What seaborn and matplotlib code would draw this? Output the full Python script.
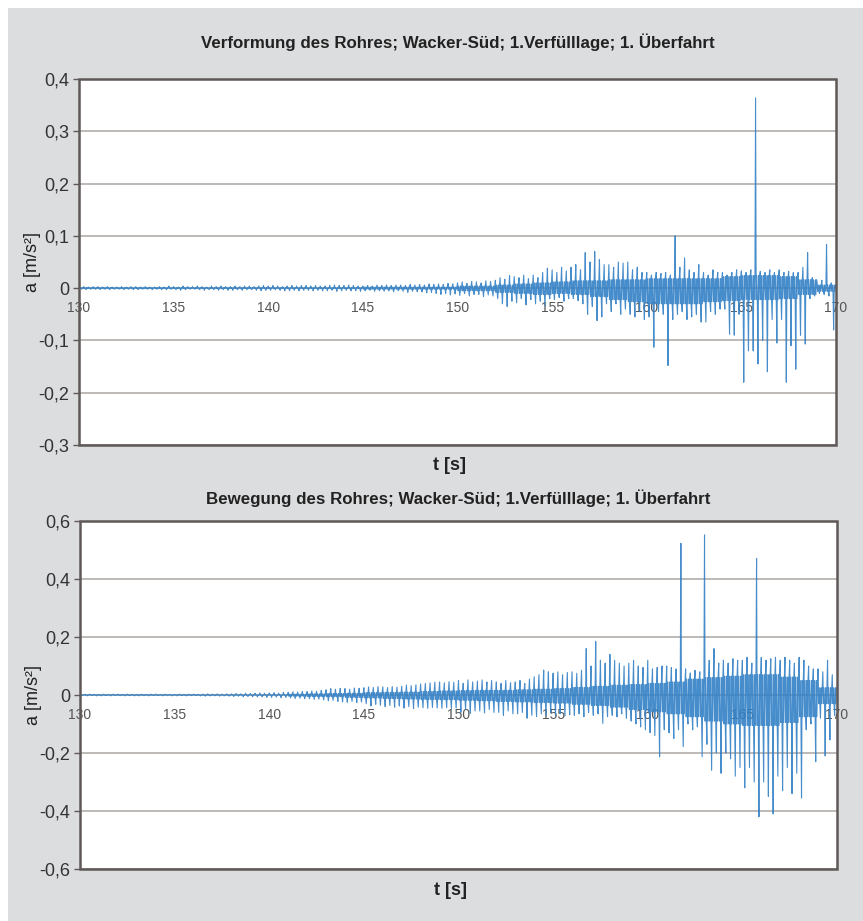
import numpy as np
import pandas as pd
import matplotlib
matplotlib.use("Agg")
import matplotlib.pyplot as plt
import matplotlib.ticker as mticker
from matplotlib.patches import Rectangle
import seaborn as sns

# sampled envelope, 4 samples per second; between the hi and lo peaks the
# signal swings inside its dense core (core_lo .. core_hi)
sample_step = 0.25
t_first = 130.0

# top chart: Verformung (deformation), m/s^2, one row per second 130..169
top_hi = [
    [0.002, 0.003, 0.002, 0.003], [0.003, 0.002, 0.003, 0.002], [0.002, 0.003, 0.002, 0.003],
    [0.003, 0.002, 0.003, 0.002], [0.002, 0.003, 0.002, 0.004], [0.003, 0.002, 0.004, 0.003],
    [0.003, 0.004, 0.003, 0.002], [0.004, 0.003, 0.004, 0.003], [0.003, 0.004, 0.003, 0.004],
    [0.004, 0.003, 0.004, 0.005], [0.004, 0.005, 0.004, 0.003], [0.004, 0.005, 0.004, 0.005],
    [0.005, 0.004, 0.005, 0.004], [0.004, 0.005, 0.006, 0.005], [0.005, 0.006, 0.005, 0.004],
    [0.004, 0.005, 0.004, 0.006], [0.005, 0.006, 0.005, 0.006], [0.006, 0.005, 0.007, 0.006],
    [0.007, 0.006, 0.008, 0.007], [0.008, 0.007, 0.009, 0.008], [0.010, 0.012, 0.009, 0.013],
    [0.012, 0.010, 0.014, 0.013], [0.015, 0.020, 0.017, 0.024], [0.022, 0.020, 0.025, 0.018],
    [0.025, 0.020, 0.030, 0.038], [0.035, 0.030, 0.040, 0.033], [0.040, 0.045, 0.035, 0.068],
    [0.050, 0.070, 0.055, 0.045], [0.045, 0.040, 0.050, 0.048], [0.050, 0.035, 0.040, 0.030],
    [0.030, 0.025, 0.030, 0.028], [0.030, 0.025, 0.100, 0.040], [0.058, 0.035, 0.030, 0.045],
    [0.030, 0.025, 0.035, 0.030], [0.030, 0.025, 0.030, 0.035], [0.033, 0.030, 0.035, 0.364],
    [0.032, 0.030, 0.035, 0.030], [0.035, 0.030, 0.032, 0.030], [0.030, 0.040, 0.068, 0.020],
    [0.012, 0.015, 0.084, 0.010],
]
top_lo = [
    [-0.002, -0.003, -0.002, -0.002], [-0.003, -0.002, -0.003, -0.002], [-0.002, -0.003, -0.002, -0.003],
    [-0.003, -0.002, -0.002, -0.003], [-0.002, -0.003, -0.003, -0.002], [-0.003, -0.004, -0.003, -0.002],
    [-0.002, -0.003, -0.004, -0.003], [-0.003, -0.004, -0.003, -0.004], [-0.004, -0.003, -0.004, -0.003],
    [-0.003, -0.004, -0.005, -0.004], [-0.004, -0.003, -0.004, -0.005], [-0.005, -0.004, -0.005, -0.004],
    [-0.004, -0.005, -0.004, -0.005], [-0.005, -0.004, -0.006, -0.005], [-0.004, -0.005, -0.005, -0.006],
    [-0.005, -0.004, -0.006, -0.005], [-0.006, -0.005, -0.007, -0.005], [-0.006, -0.008, -0.006, -0.007],
    [-0.007, -0.009, -0.008, -0.010], [-0.012, -0.010, -0.013, -0.011], [-0.014, -0.010, -0.015, -0.012],
    [-0.012, -0.016, -0.013, -0.015], [-0.020, -0.030, -0.035, -0.025], [-0.028, -0.020, -0.032, -0.022],
    [-0.030, -0.025, -0.034, -0.020], [-0.022, -0.018, -0.025, -0.020], [-0.020, -0.024, -0.030, -0.050],
    [-0.035, -0.062, -0.055, -0.030], [-0.045, -0.030, -0.050, -0.040], [-0.050, -0.055, -0.045, -0.060],
    [-0.055, -0.113, -0.045, -0.050], [-0.148, -0.060, -0.050, -0.045], [-0.060, -0.055, -0.050, -0.065],
    [-0.065, -0.045, -0.050, -0.040], [-0.040, -0.088, -0.090, -0.050], [-0.180, -0.120, -0.120, -0.145],
    [-0.100, -0.160, -0.060, -0.105], [-0.060, -0.180, -0.110, -0.155], [-0.090, -0.107, -0.020, -0.015],
    [-0.010, -0.012, -0.015, -0.080],
]
# dense core of the top signal, one value per second 130..169
top_core_hi = [0.001] * 15 + [0.002] * 5 + [0.004, 0.004, 0.006, 0.008, 0.010,
                                             0.012, 0.014, 0.014, 0.016, 0.016,
                                             0.018, 0.018, 0.018, 0.018, 0.022,
                                             0.024, 0.024, 0.022, 0.016, 0.006]
top_core_lo = [-0.001] * 15 + [-0.002] * 5 + [-0.005, -0.005, -0.008, -0.010, -0.012,
                                               -0.010, -0.012, -0.016, -0.022, -0.026,
                                               -0.030, -0.030, -0.030, -0.026, -0.024,
                                               -0.022, -0.022, -0.020, -0.012, -0.006]

# bottom chart: Bewegung (movement), m/s^2
bot_hi = [
    [0.003, 0.002, 0.003, 0.002], [0.002, 0.003, 0.002, 0.003], [0.003, 0.002, 0.003, 0.002],
    [0.002, 0.003, 0.002, 0.003], [0.003, 0.002, 0.003, 0.002], [0.002, 0.003, 0.002, 0.003],
    [0.003, 0.002, 0.003, 0.004], [0.003, 0.004, 0.003, 0.004], [0.004, 0.005, 0.004, 0.006],
    [0.005, 0.006, 0.007, 0.006], [0.007, 0.008, 0.006, 0.009], [0.009, 0.011, 0.010, 0.012],
    [0.012, 0.014, 0.013, 0.016], [0.018, 0.022, 0.020, 0.023], [0.022, 0.020, 0.024, 0.023],
    [0.025, 0.028, 0.026, 0.029], [0.028, 0.025, 0.029, 0.027], [0.030, 0.034, 0.032, 0.035],
    [0.038, 0.040, 0.042, 0.044], [0.045, 0.042, 0.046, 0.044], [0.050, 0.040, 0.052, 0.045],
    [0.048, 0.052, 0.045, 0.050], [0.045, 0.040, 0.050, 0.042], [0.045, 0.050, 0.040, 0.055],
    [0.063, 0.070, 0.086, 0.080], [0.075, 0.080, 0.070, 0.078], [0.080, 0.075, 0.085, 0.160],
    [0.100, 0.184, 0.120, 0.110], [0.140, 0.120, 0.110, 0.100], [0.110, 0.120, 0.100, 0.095],
    [0.120, 0.090, 0.095, 0.100], [0.100, 0.095, 0.090, 0.523], [0.090, 0.076, 0.085, 0.080],
    [0.552, 0.120, 0.160, 0.110], [0.120, 0.110, 0.125, 0.120], [0.120, 0.130, 0.110, 0.470],
    [0.130, 0.120, 0.125, 0.130], [0.120, 0.130, 0.120, 0.110], [0.130, 0.120, 0.100, 0.090],
    [0.090, 0.080, 0.120, 0.070],
]
bot_lo = [
    [-0.002, -0.003, -0.002, -0.003], [-0.003, -0.002, -0.003, -0.002], [-0.002, -0.003, -0.002, -0.003],
    [-0.003, -0.002, -0.003, -0.002], [-0.002, -0.003, -0.002, -0.003], [-0.003, -0.002, -0.003, -0.002],
    [-0.002, -0.003, -0.004, -0.003], [-0.003, -0.004, -0.003, -0.004], [-0.005, -0.004, -0.006, -0.005],
    [-0.006, -0.007, -0.006, -0.008], [-0.008, -0.007, -0.009, -0.008], [-0.010, -0.012, -0.011, -0.013],
    [-0.013, -0.015, -0.014, -0.017], [-0.020, -0.018, -0.022, -0.024], [-0.025, -0.022, -0.026, -0.024],
    [-0.030, -0.038, -0.032, -0.035], [-0.040, -0.036, -0.042, -0.038], [-0.045, -0.040, -0.046, -0.042],
    [-0.044, -0.046, -0.043, -0.045], [-0.046, -0.044, -0.047, -0.045], [-0.060, -0.050, -0.063, -0.055],
    [-0.055, -0.062, -0.050, -0.060], [-0.060, -0.070, -0.055, -0.065], [-0.065, -0.060, -0.080, -0.070],
    [-0.075, -0.065, -0.070, -0.060], [-0.070, -0.065, -0.072, -0.068], [-0.070, -0.065, -0.075, -0.060],
    [-0.070, -0.065, -0.098, -0.075], [-0.070, -0.075, -0.065, -0.080], [-0.090, -0.100, -0.110, -0.120],
    [-0.130, -0.140, -0.213, -0.120], [-0.130, -0.150, -0.120, -0.178], [-0.100, -0.120, -0.110, -0.213],
    [-0.170, -0.260, -0.200, -0.270], [-0.200, -0.220, -0.280, -0.250], [-0.320, -0.250, -0.300, -0.420],
    [-0.300, -0.350, -0.410, -0.280], [-0.330, -0.250, -0.340, -0.270], [-0.355, -0.120, -0.100, -0.230],
    [-0.080, -0.210, -0.155, -0.070],
]
bot_core_hi = [0.001] * 11 + [0.003, 0.004, 0.005, 0.006, 0.008, 0.009, 0.010, 0.012, 0.014,
                              0.015, 0.016, 0.016, 0.018, 0.020, 0.022, 0.026, 0.030, 0.034,
                              0.036, 0.040, 0.045, 0.055, 0.060, 0.065, 0.070, 0.070, 0.062,
                              0.050, 0.025]
bot_core_lo = [-0.001] * 11 + [-0.004, -0.005, -0.006, -0.008, -0.010, -0.012, -0.014, -0.015,
                               -0.016, -0.018, -0.020, -0.022, -0.024, -0.026, -0.028, -0.032,
                               -0.036, -0.042, -0.050, -0.058, -0.065, -0.075, -0.090, -0.100,
                               -0.105, -0.105, -0.095, -0.075, -0.030]

top_title = "Verformung des Rohres; Wacker-Süd; 1.Verfülllage; 1. Überfahrt"
bot_title = "Bewegung des Rohres; Wacker-Süd; 1.Verfülllage; 1. Überfahrt"
x_ticks = [130, 135, 140, 145, 150, 155, 160, 165, 170]
top_yticks = [-0.3, -0.2, -0.1, 0, 0.1, 0.2, 0.3, 0.4]
bot_yticks = [-0.6, -0.4, -0.2, 0, 0.2, 0.4, 0.6]


def to_series(hi, lo, core_hi, core_lo):
    hi = np.ravel(hi)
    lo = np.ravel(lo)
    c_hi = np.repeat(core_hi, 4)
    c_lo = np.repeat(core_lo, 4)
    t = t_first + sample_step * np.arange(len(hi))
    q = sample_step / 8
    tt = np.column_stack([t + k * q for k in range(8)]).ravel()
    aa = np.column_stack([hi, c_lo, c_hi, c_lo, lo, c_hi, c_lo, c_hi]).ravel()
    return pd.DataFrame({"t": tt, "a": aa})


sns.set_theme(style="white")
plt.rcParams["font.family"] = ["Liberation Sans", "DejaVu Sans"]

BG = "#dcdddf"
FRAME = "#5e5856"
GRID = "#aaa5a3"
LINE = "#3381c6"

fig = plt.figure(figsize=(8.63, 9.21), dpi=100, facecolor="white")
fig.patches.append(Rectangle((8 / 863, 0), 1, 1 - 8 / 921, transform=fig.transFigure,
                             facecolor=BG, edgecolor="none", zorder=-10))


def comma_fmt(v, _):
    if abs(v) < 1e-9:
        return "0"
    return f"{v:.1f}".replace(".", ",")


def style_axes(ax, yticks, title, title_pad, xlabel_y):
    ax.set_facecolor("white")
    ax.set_xlim(130, 170)
    ax.set_ylim(yticks[0], yticks[-1])
    ax.set_xticks(x_ticks)
    ax.set_yticks(yticks)
    ax.yaxis.set_major_formatter(mticker.FuncFormatter(comma_fmt))
    ax.grid(axis="y", color=GRID, linewidth=1.1)
    ax.grid(axis="x", visible=False)
    ax.set_axisbelow(True)
    for side in ["top", "right", "left"]:
        ax.spines[side].set_visible(False)
    # x tick labels sit on the zero line like in the original
    ax.spines["bottom"].set_position(("data", 0))
    ax.spines["bottom"].set_visible(False)
    ax.tick_params(axis="x", length=0, pad=9, labelsize=10, labelcolor="#555555")
    ax.tick_params(axis="y", left=True, length=4, width=1, color=FRAME, pad=3,
                   labelsize=13, labelcolor="#333333")
    ax.add_patch(Rectangle((0, 0), 1, 1, transform=ax.transAxes, fill=False,
                           edgecolor=FRAME, linewidth=1.8, clip_on=False, zorder=5))
    ax.set_title(title, fontsize=12.2, fontweight="bold", color="#222222", pad=title_pad)
    ax.set_xlabel("t [s]", fontsize=13, fontweight="bold", color="#222222")
    ax.xaxis.set_label_coords(0.49, xlabel_y)
    ax.set_ylabel("a [m/s²]", fontsize=13, color="#222222")
    ax.yaxis.set_label_coords(-0.050, 0.5)


ax1 = fig.add_axes([79 / 863, 1 - 445 / 921, 757 / 863, 366 / 921])
ax2 = fig.add_axes([80 / 863, 1 - 869 / 921, 757 / 863, 348 / 921])

sns.lineplot(data=to_series(top_hi, top_lo, top_core_hi, top_core_lo), x="t", y="a",
             ax=ax1, estimator=None, color=LINE, linewidth=0.8, alpha=0.9)
sns.lineplot(data=to_series(bot_hi, bot_lo, bot_core_hi, bot_core_lo), x="t", y="a",
             ax=ax2, estimator=None, color=LINE, linewidth=0.8, alpha=0.9)

style_axes(ax1, top_yticks, top_title, 22.5, -0.032)
style_axes(ax2, bot_yticks, bot_title, 12.5, -0.036)

fig.savefig("out.png", dpi=100, facecolor=fig.get_facecolor())
